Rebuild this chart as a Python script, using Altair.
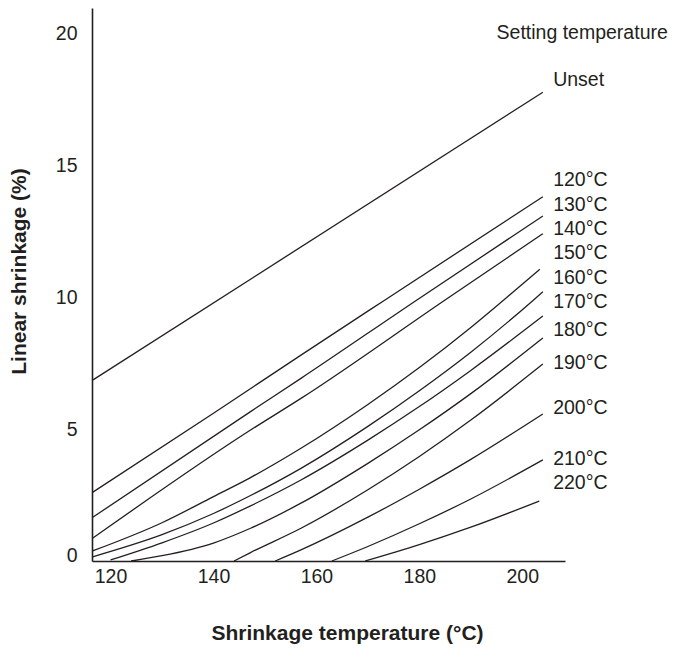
import altair as alt
import pandas as pd

# ---- data ----
series_names = ["Unset", "120°C", "130°C", "140°C", "150°C", "160°C",
                "170°C", "180°C", "190°C", "200°C", "210°C", "220°C"]

unset_x = [116.6, 204.0]
unset_y = [6.86, 17.76]
s120_x = [116.5, 140, 157, 173.4, 204.0]
s120_y = [2.6, 5.6, 7.8, 9.9, 13.8]
s130_x = [116.5, 147.2, 157, 179.6, 204.0]
s130_y = [1.65, 5.66, 6.92, 9.9, 13.07]
s140_x = [116.5, 147.2, 157, 185, 204.0]
s140_y = [0.86, 4.96, 6.16, 9.89, 12.4]
s150_x = [116.5, 130, 140, 147.2, 157, 170, 180, 190, 196.4, 203.4]
s150_y = [0.38, 1.45, 2.44, 3.16, 4.27, 5.93, 7.33, 8.85, 9.89, 11.05]
s160_x = [116.5, 130, 140, 147.2, 157, 170, 180, 190, 202.2, 204.0]
s160_y = [0.16, 1.0, 1.8, 2.48, 3.51, 5.1, 6.45, 7.91, 9.89, 10.2]
s170_x = [120, 130, 140, 147.2, 157, 170, 180, 190, 204.0]
s170_y = [0.04, 0.69, 1.44, 2.09, 3.07, 4.58, 5.85, 7.22, 9.28]
s180_x = [124, 130, 140, 147.2, 157, 170, 180, 190, 204.0]
s180_y = [0.0, 0.2, 0.68, 1.24, 2.19, 3.7, 4.97, 6.34, 8.45]
s190_x = [144, 147.2, 157, 170, 180, 190, 204.0]
s190_y = [0.0, 0.32, 1.24, 2.7, 3.96, 5.34, 7.46]
s200_x = [152, 157, 170, 180, 190, 204.0]
s200_y = [0.0, 0.42, 1.66, 2.72, 3.85, 5.57]
s210_x = [163, 170, 180, 190, 204.0]
s210_y = [0.0, 0.55, 1.41, 2.35, 3.83]
s220_x = [169.5, 180, 190, 203.3]
s220_y = [0.0, 0.62, 1.28, 2.27]

label_text = series_names
label_y = [18.22, 14.45, 13.5, 12.58, 11.65, 10.72, 9.8, 8.75, 7.5, 5.8, 3.86, 2.95]
label_x = 206.0
header_text = "Setting temperature"
header_x = 195.0
header_y = 20.0

x_ticks = [120, 140, 160, 180, 200]
y_ticks = [0, 5, 10, 15, 20]

# ---- build tables ----
all_x = [unset_x, s120_x, s130_x, s140_x, s150_x, s160_x,
         s170_x, s180_x, s190_x, s200_x, s210_x, s220_x]
all_y = [unset_y, s120_y, s130_y, s140_y, s150_y, s160_y,
         s170_y, s180_y, s190_y, s200_y, s210_y, s220_y]
rows = []
for name, xs, ys in zip(series_names, all_x, all_y):
    for i, (a, b) in enumerate(zip(xs, ys)):
        rows.append({"series": name, "x": a, "y": b, "order": i})
lines_df = pd.DataFrame(rows)

labels_df = pd.DataFrame({
    "text": label_text + [header_text],
    "x": [label_x] * len(label_text) + [header_x],
    "y": label_y + [header_y],
})

FONT = "Liberation Sans"
INK = "#231f20"

xscale = alt.Scale(domain=[116.4, 208.3], nice=False, zero=False)
yscale = alt.Scale(domain=[0, 20.95], nice=False, zero=False)

lines = alt.Chart(lines_df).mark_line(
    color=INK, strokeWidth=1.3, interpolate="monotone", clip=False
).encode(
    x=alt.X("x:Q", scale=xscale, axis=alt.Axis(
        values=x_ticks, title="Shrinkage temperature (°C)", ticks=False, grid=False,
        domainColor=INK, domainWidth=1.6, labelFont=FONT, labelFontSize=19.5,
        labelColor=INK, labelPadding=6, titleFont=FONT, titleFontSize=21,
        titleFontWeight="bold", titleColor=INK, titleX=255, titleY=78,
        titleBaseline="alphabetic", titleAlign="center")),
    y=alt.Y("y:Q", scale=yscale, axis=alt.Axis(
        values=y_ticks, title="Linear shrinkage (%)", ticks=False, grid=False,
        domainColor=INK, domainWidth=1.6, labelFont=FONT, labelFontSize=19.5,
        labelColor=INK, labelPadding=15,
        labelBaseline={"condition": {"test": "datum.value == 0", "value": "alphabetic"},
                       "value": "middle"},
        titleFont=FONT, titleFontSize=21, titleFontWeight="bold", titleColor=INK,
        titleAngle=270, titleX=-67, titleY=263, titleBaseline="alphabetic",
        titleAlign="center")),
    detail="series:N",
    order="order:Q",
)

texts = alt.Chart(labels_df).mark_text(
    align="left", baseline="middle", font=FONT, fontSize=19.5, color=INK
).encode(
    x=alt.X("x:Q", scale=xscale),
    y=alt.Y("y:Q", scale=yscale),
    text="text:N",
)

chart = (lines + texts).properties(
    width=473, height=553,
    autosize=alt.AutoSizeParams(type="none"),
    padding={"left": 84, "top": 0, "right": 110, "bottom": 85},
    background="white",
).configure_view(stroke=None)

chart.save("out.html", embed_options={"renderer": "svg", "actions": False})
